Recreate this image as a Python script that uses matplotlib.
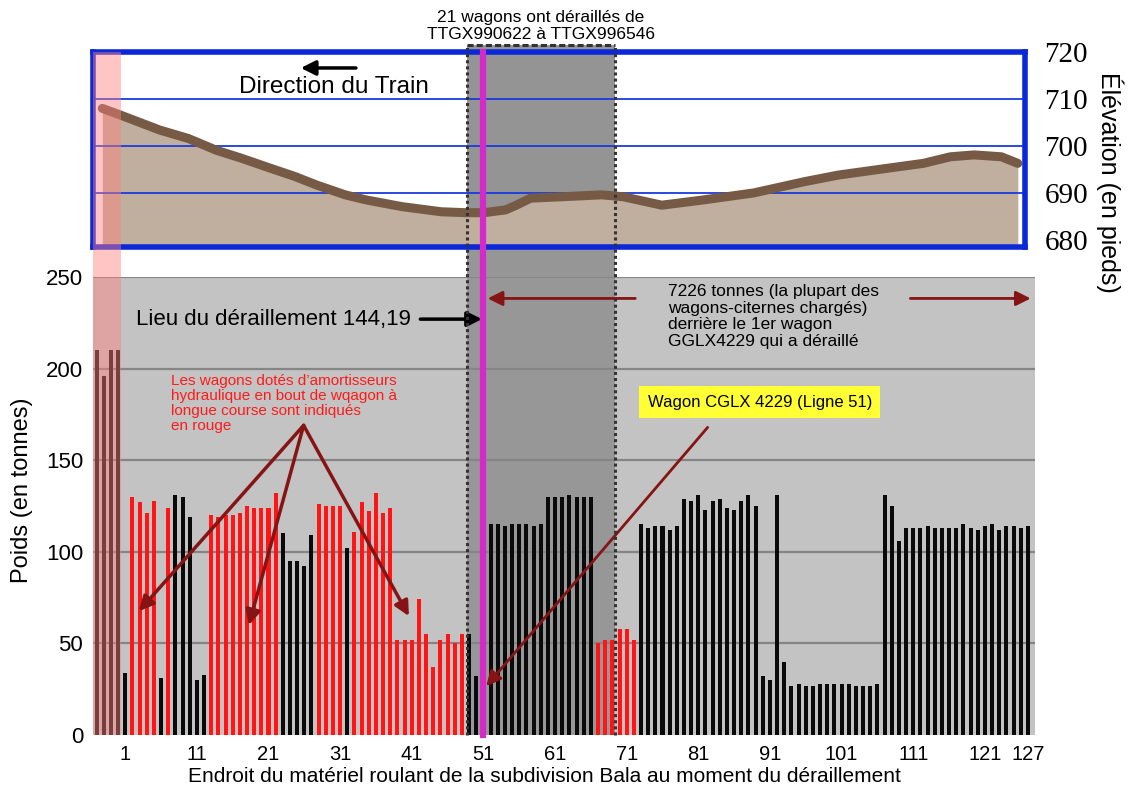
import numpy as np
import matplotlib.pyplot as plt
from matplotlib.patches import Rectangle
from matplotlib.lines import Line2D
from matplotlib.transforms import blended_transform_factory

plt.rcParams['font.family'] = ['Liberation Sans', 'DejaVu Sans']

W, H = 1131, 789

# locomotives (positions before wagon 1)
loco_pos = [-3, -2, -1, 0]
loco_tons = [210, 196, 210, 210]

# weight of each wagon, position 1..127
wagon_tons = [34, 130, 127, 121, 128, 31, 124, 131, 130, 119,
              30, 33, 120, 119, 120, 120, 121, 125, 124, 124,
              124, 132, 110, 95, 95, 92, 109, 126, 125, 125,
              125, 102, 111, 127, 122, 132, 121, 124, 52, 52,
              52, 74, 55, 37, 52, 55, 50, 55, 55, 32,
              30, 115, 115, 114, 115, 115, 115, 114, 115, 130,
              130, 130, 131, 130, 130, 130, 50, 52, 52, 58,
              58, 52, 115, 113, 114, 114, 112, 114, 129, 128,
              131, 123, 128, 129, 124, 123, 128, 131, 125, 32,
              30, 131, 40, 27, 28, 27, 27, 28, 28, 28,
              28, 28, 27, 27, 27, 28, 131, 125, 106, 113,
              113, 113, 114, 113, 113, 113, 113, 115, 113, 112,
              114, 115, 112, 114, 114, 113, 114]
red_wagons = [2, 3, 4, 5, 7] + list(range(13, 23)) + list(range(28, 32)) \
    + list(range(33, 49)) + list(range(67, 73))

# elevation profile (position along train, feet)
elev_pos = [-2.2, 0.3, 5.8, 9.8, 13.7, 17.2, 21.2, 24.7, 27.7, 31.7, 34.7,
            39.6, 45.1, 48.6, 51.1, 54.1, 55.6, 57.6, 62, 67.5, 70.5, 75.9,
            81.6, 88.7, 95.8, 100.5, 107.6, 112.4, 116.2, 119.5, 123.3, 125.6]
elev_ft = [708.0, 706.6, 703.4, 701.6, 699.1, 697.4, 695.3, 693.5, 691.7,
           689.6, 688.5, 687.1, 686.0, 685.8, 685.8, 686.4, 687.4, 688.9,
           689.2, 689.6, 689.2, 687.4, 688.5, 690.0, 692.4, 693.8, 695.3,
           696.3, 697.7, 698.1, 697.7, 696.3]

derail_pos = 51
derailed_from, derailed_to = 48.65, 69.4

xticks = [1, 11, 21, 31, 41, 51, 61, 71, 81, 91, 101, 111, 121, 127]
yticks = [0, 50, 100, 150, 200, 250]
elev_ticks = [680, 690, 700, 710, 720]


def fx(x):
    return x / W


def fy(y):
    return 1 - y / H


fig = plt.figure(figsize=(W / 100, H / 100), dpi=100)
ax = fig.add_axes([fx(93), fy(735), fx(1035 - 93), (735 - 277) / H])
ax_top = fig.add_axes([fx(93), fy(247), fx(1025 - 93), (247 - 52) / H])

# ---- bar chart ----
pos = np.arange(1, len(wagon_tons) + 1)
colors = ['#ff1515' if p in red_wagons else '#0a0a0a' for p in pos]
ax.set_facecolor('#c3c3c3')
ax.bar(loco_pos, loco_tons, width=0.56, color='#0a0a0a', zorder=2)
ax.bar(pos, wagon_tons, width=0.56, color=colors, zorder=2)
for t in yticks[1:]:
    ax.axhline(t, color='#858585', lw=1.6, zorder=0.8)
ax.axvspan(derailed_from, derailed_to, color='#979797', zorder=0.6, lw=0)
ax.set_xlim(-3.5, 128)
ax.set_ylim(0, 250)
ax.set_xticks(xticks)
ax.set_yticks(yticks)
ax.tick_params(axis='x', length=0, pad=7, labelsize=14.5)
ax.tick_params(axis='y', length=0, pad=7, labelsize=16)
for s in ax.spines.values():
    s.set_visible(False)

dark_red = '#861414'
arr = dict(arrowstyle='-|>', color=dark_red, lw=2.5, mutation_scale=22,
           shrinkA=0, shrinkB=0)
for tgt in [(2.9, 67.6), (18.25, 60), (40.6, 64.9)]:
    ax.annotate('', xy=tgt, xytext=(25.9, 169), arrowprops=arr)
ax.text(7.4, 181, "Les wagons dotés d\u2019amortisseurs\nhydraulique en bout de wqagon à\n"
        "longue course sont indiqués\nen rouge", color='#ff1a1a', fontsize=11,
        ha='left', va='center', linespacing=1.1, zorder=5)

ax.text(89.6, 181.6, 'Wagon CGLX 4229 (Ligne 51)', fontsize=12, ha='center',
        va='center', zorder=6,
        bbox=dict(boxstyle='square,pad=0.5', fc='#ffff33', ec='none'))
ax.annotate('', xy=(51.4, 26.7), xytext=(82.3, 167.9),
            arrowprops=dict(arr, lw=2), zorder=6)

ax.text(2.5, 227, 'Lieu du déraillement 144,19', fontsize=16, ha='left',
        va='center', zorder=6)
ax.annotate('', xy=(50.8, 227), xytext=(42.2, 227),
            arrowprops=dict(arrowstyle='-|>', color='black', lw=2.5,
                            mutation_scale=22, shrinkA=0, shrinkB=0), zorder=6)

ax.text(76.8, 228.5, '7226 tonnes (la plupart des\nwagons-citernes chargés)\n'
        'derrière le 1er wagon\nGGLX4229 qui a déraillé', fontsize=12.5,
        ha='left', va='center', linespacing=1.12, zorder=6)
ax.annotate('', xy=(51.6, 238.3), xytext=(72.2, 238.3),
            arrowprops=dict(arr, lw=2), zorder=6)
ax.annotate('', xy=(127.4, 238.3), xytext=(110.6, 238.3),
            arrowprops=dict(arr, lw=2), zorder=6)

# ---- elevation profile ----
ax_top.set_facecolor('white')
ax_top.axvspan(derailed_from, derailed_to, color='#949494', zorder=0.6, lw=0)
ax_top.fill_between(elev_pos, elev_ft, 678.5, color='#c0ae9e', zorder=1, lw=0)
for t in elev_ticks[1:-1]:
    ax_top.axhline(t, color='#1a3ae0', lw=1.3, zorder=1.5)
ax_top.plot(elev_pos, elev_ft, color='#765a45', lw=6.5,
            solid_capstyle='round', zorder=2)
ax_top.set_xlim(-3.5, 126.6)
ax_top.set_ylim(678.5, 720)
ax_top.set_xticks([])
ax_top.set_yticks(elev_ticks)
ax_top.yaxis.tick_right()
ax_top.tick_params(axis='y', length=0, pad=14, labelsize=21)
for lab in ax_top.get_yticklabels():
    lab.set_family('Liberation Serif')
for s in ax_top.spines.values():
    s.set_color('#0a28d8')
    s.set_linewidth(4)
ax_top.annotate('', xy=(25.5, 716.6), xytext=(33.2, 716.6),
                arrowprops=dict(arrowstyle='-|>', color='black', lw=2.5,
                                mutation_scale=22, shrinkA=0, shrinkB=0))
ax_top.text(30.1, 712.6, 'Direction du Train', fontsize=17.5, ha='center',
            va='center')

# ---- overlays spanning both panels ----
bt = blended_transform_factory(ax.transData, fig.transFigure)
fig.add_artist(Rectangle((derailed_from, fy(735)), derailed_to - derailed_from,
                         (735 - 45) / H, transform=bt, fc='#969696', ec='none',
                         zorder=-1))
for xv in [derailed_from, derailed_to]:
    fig.add_artist(Line2D([xv, xv], [fy(735), fy(45)], transform=bt,
                          color='#333333', lw=2.2, ls=(0, (1, 1)), zorder=8))
fig.add_artist(Line2D([derailed_from, derailed_to], [fy(45), fy(45)],
                      transform=bt, color='#333333', lw=2.2, ls=(0, (2, 1)),
                      zorder=8))
fig.add_artist(Rectangle((-3.5, fy(735)), 3.95, (735 - 52) / H, transform=bt,
                         fc='#ff8080', ec='none', alpha=0.45, zorder=9))
fig.add_artist(Line2D([derail_pos, derail_pos], [fy(735), fy(52)], transform=bt,
                      color='#d42bc8', lw=4.5, zorder=10))

fig.text(fx(541), fy(26), '21 wagons ont déraillés de\nTTGX990622 à TTGX996546',
         fontsize=12.5, ha='center', va='center', linespacing=1.1)
fig.text(fx(22), fy(490), 'Poids (en tonnes)', fontsize=17, rotation=90,
         ha='center', va='center')
fig.text(fx(1110), fy(182), 'Élévation (en pieds)', fontsize=18, rotation=270,
         ha='center', va='center')
fig.text(fx(544), fy(776), 'Endroit du matériel roulant de la subdivision Bala '
         'au moment du déraillement', fontsize=15, ha='center', va='center')

fig.savefig('out.png', dpi=100)
